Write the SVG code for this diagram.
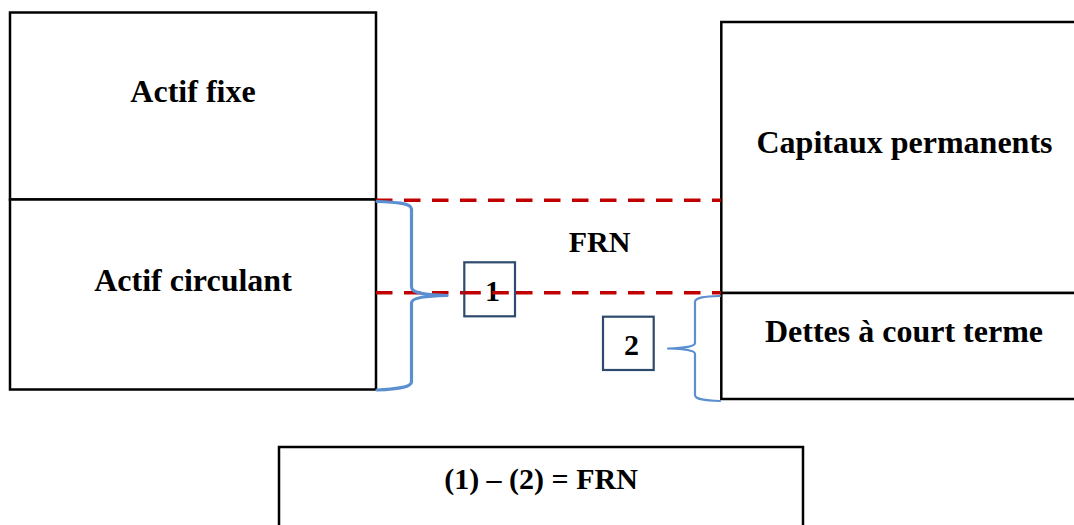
<svg xmlns="http://www.w3.org/2000/svg" width="1074" height="525" viewBox="0 0 1074 525">
<style>
.box{fill:#fff;stroke:#000;stroke-width:2.5}
.num{fill:#fff;stroke:#2E4A6E;stroke-width:2.2}
.lbl{font-family:"Liberation Serif","Times New Roman",serif;font-weight:bold;font-size:32px;fill:#000;text-anchor:middle}
.sm{font-size:30px}
.dash{stroke:#C00000;stroke-width:3.5;stroke-dasharray:16.5 11.5;fill:none}
.brace{fill:none;stroke:#5B8FD0;stroke-linecap:round;stroke-linejoin:round}
</style>
<rect width="1074" height="525" fill="#fff"/>
<g id="actif-fixe"><rect class="box" x="10" y="12.5" width="366" height="187"/><text class="lbl" x="193" y="102">Actif fixe</text></g>
<g id="actif-circulant"><rect class="box" x="10" y="199.5" width="366" height="190"/><text class="lbl" x="193" y="291">Actif circulant</text></g>
<g id="capitaux-permanents"><rect class="box" x="721.3" y="22" width="370" height="271"/><text class="lbl" x="904.5" y="153">Capitaux permanents</text></g>
<g id="dettes-court-terme"><rect class="box" x="721.3" y="293" width="370" height="106"/><text class="lbl" x="904" y="342">Dettes à court terme</text></g>
<g id="formule"><rect class="box" x="279" y="447" width="524" height="100"/><text class="lbl sm" x="541" y="489">(1) – (2) = FRN</text></g>
<g id="frn"><text class="lbl sm" x="599.5" y="252">FRN</text></g>
<g id="connectors">
<line class="dash" x1="376" y1="200.3" x2="721" y2="200.3"/>
<line class="dash" x1="376" y1="292.7" x2="721" y2="292.7"/>
<path class="brace" stroke-width="3.2" d="M377,201.5 C395,202 411,203 411.5,209 L411.5,287 C411.5,293 425,295 447,295.5 C425,296 411.5,298 411.5,303 L411.5,382 C411.5,387 395,389.5 377,390"/>
<path class="brace" stroke-width="2.2" d="M720,296 C705,296.5 695,297 695,302 L695,343 C695,347 682,348 668,348.5 C682,349 695,350 695,354 L695,395 C695,399.5 705,400.5 720,401"/>
</g>
<g id="n1"><rect class="num" x="464.3" y="262.3" width="50.7" height="54"/><text class="lbl sm" x="492.5" y="301">1</text></g>
<line x1="464.3" y1="292.7" x2="515" y2="292.7" class="dash" stroke-dasharray="0 7 16.5 11.5 16.5 100"/>
<g id="n2"><rect class="num" x="603" y="316.7" width="50.7" height="53.3"/><text class="lbl sm" x="631.5" y="355">2</text></g>
</svg>
